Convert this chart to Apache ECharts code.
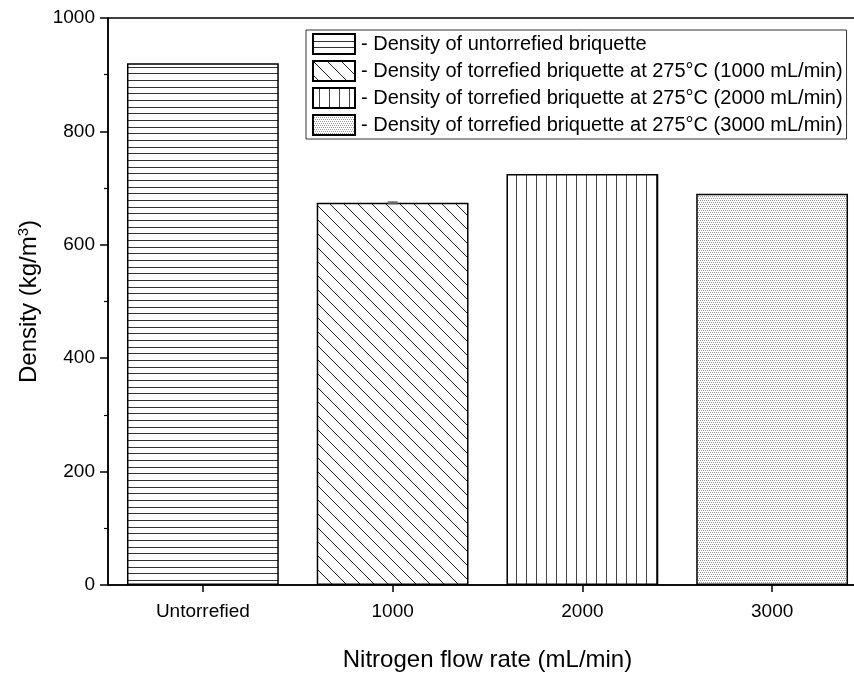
<!DOCTYPE html>
<html>
<head>
<meta charset="utf-8">
<script src="https://cdn.jsdelivr.net/npm/echarts@6/dist/echarts.min.js"></script>
<style>html,body{margin:0;padding:0;background:#fff;}#c{width:854px;height:675px;}</style>
</head>
<body>
<div id="c"></div>
<script>
const categories = ['Untorrefied', '1000', '2000', '3000'];
const seriesNames = [
  '- Density of untorrefied briquette',
  '- Density of torrefied briquette at 275\u00B0C (1000 mL/min)',
  '- Density of torrefied briquette at 275\u00B0C (2000 mL/min)',
  '- Density of torrefied briquette at 275\u00B0C (3000 mL/min)'
];
const densityValues = [920, 674, 725, 690];
const densityErrors = [0, 1, 0, 0];
const yTicks = [0, 200, 400, 600, 800, 1000];

function makePattern(kind) {
  const c = document.createElement('canvas');
  let w = 10, h = 10;
  if (kind === 'h') { w = 10; h = 20; }
  if (kind === 'v') { w = 10; h = 10; }
  if (kind === 'd') { w = 14; h = 14; }
  if (kind === 'dots') { w = 4; h = 4; }
  c.width = w; c.height = h;
  const ctx = c.getContext('2d');
  ctx.fillStyle = '#fff';
  ctx.fillRect(0, 0, w, h);
  if (kind === 'h') {
    ctx.fillStyle = '#333';
    ctx.fillRect(0, 0, w, 1);
    ctx.fillRect(0, 7, w, 1);
    ctx.fillRect(0, 13, w, 1);
  } else if (kind === 'v') {
    ctx.fillStyle = '#444';
    ctx.fillRect(6, 0, 1, h);
  } else if (kind === 'd') {
    ctx.strokeStyle = '#222';
    ctx.lineWidth = 1;
    ctx.beginPath();
    ctx.moveTo(-2, -2); ctx.lineTo(16, 16);
    ctx.moveTo(12, -2); ctx.lineTo(16, 2);
    ctx.moveTo(-2, 12); ctx.lineTo(2, 16);
    ctx.stroke();
  } else if (kind === 'dots') {
    ctx.fillStyle = '#999';
    ctx.fillRect(0, 0, 1, 1);
    ctx.fillRect(2, 0, 1, 1);
    ctx.fillRect(1, 2, 1, 1);
    ctx.fillRect(3, 2, 1, 1);
  }
  return { image: c, repeat: 'repeat' };
}
const patterns = [makePattern('h'), makePattern('d'), makePattern('v'), makePattern('dots')];

const FONT = "'Liberation Sans', Arial, sans-serif";

const barSeries = seriesNames.map((name, i) => ({
  name: name,
  type: 'bar',
  stack: 'all',
  barCategoryGap: '20%',
  data: categories.map((c, j) => (j === i ? densityValues[j] : '-')),
  itemStyle: { color: patterns[i], borderColor: '#000', borderWidth: 1.5 },
  emphasis: { disabled: true },
  animation: false
}));

const errSeries = {
  type: 'custom',
  name: 'err',
  animation: false,
  silent: true,
  data: categories.map((c, j) => [j, densityValues[j], densityErrors[j]]),
  renderItem: function (params, api) {
    const idx = api.value(0), v = api.value(1), e = api.value(2);
    if (!e) return null;
    const top = api.coord([idx, v + e]);
    const bot = api.coord([idx, v - e]);
    const hw = 5;
    const h = Math.max(3, bot[1] - top[1] + 1);
    const mid = (top[1] + bot[1]) / 2;
    return {
      type: 'rect',
      shape: { x: top[0] - hw, y: mid - h / 2, width: 2 * hw, height: h },
      style: { fill: '#666' }
    };
  },
  z: 5
};

const chart = echarts.init(document.getElementById('c'), null, { renderer: 'canvas' });
chart.setOption({
  animation: false,
  backgroundColor: '#fff',
  grid: {
    left: 108, top: 18, width: 759, height: 567,
    show: true, borderColor: '#000', borderWidth: 1.5,
    outerBoundsMode: 'none', containLabel: false
  },
  legend: {
    data: seriesNames,
    orient: 'vertical',
    left: 306, top: 30,
    padding: [3, 4, 3, 6],
    itemGap: 5,
    itemWidth: 42,
    itemHeight: 20,
    icon: 'rect',
    borderColor: '#333',
    borderWidth: 1,
    backgroundColor: '#fff',
    selectedMode: false,
    textStyle: { fontFamily: FONT, fontSize: 20, color: '#000', lineHeight: 22, padding: [0, 0, 0, 1] }
  },
  xAxis: {
    type: 'category',
    data: categories,
    name: 'Nitrogen flow rate (mL/min)',
    nameLocation: 'middle',
    nameGap: 63,
    nameTextStyle: { fontFamily: FONT, fontSize: 24, color: '#000' },
    axisLine: { show: true, lineStyle: { color: '#000', width: 1.5 } },
    axisTick: { show: true, alignWithLabel: true, length: 7, lineStyle: { color: '#000', width: 1.5 } },
    axisLabel: { fontFamily: FONT, fontSize: 19, color: '#000', margin: 17 },
    splitLine: { show: false }
  },
  yAxis: {
    type: 'value',
    min: yTicks[0], max: yTicks[yTicks.length - 1], interval: 200,
    name: '{a|Density (kg/m}{s|3}{a|)}',
    nameLocation: 'middle',
    nameGap: 62,
    nameTextStyle: {
      fontFamily: FONT, fontSize: 24, color: '#000',
      rich: {
        a: { fontFamily: FONT, fontSize: 24, color: '#000' },
        s: { fontFamily: FONT, fontSize: 15, color: '#000', verticalAlign: 'top', padding: [0, 0, 12, 0] }
      }
    },
    axisLine: { show: true, lineStyle: { color: '#000', width: 1.5 } },
    axisTick: { show: true, length: 8, lineStyle: { color: '#000', width: 1.5 } },
    minorTick: { show: true, splitNumber: 2, length: 4, lineStyle: { color: '#000', width: 1.2 } },
    axisLabel: { fontFamily: FONT, fontSize: 19, color: '#000', margin: 13, formatter: function (v) { return String(v); } },
    splitLine: { show: false },
    minorSplitLine: { show: false }
  },
  series: barSeries.concat([errSeries])
});
</script>
</body>
</html>
